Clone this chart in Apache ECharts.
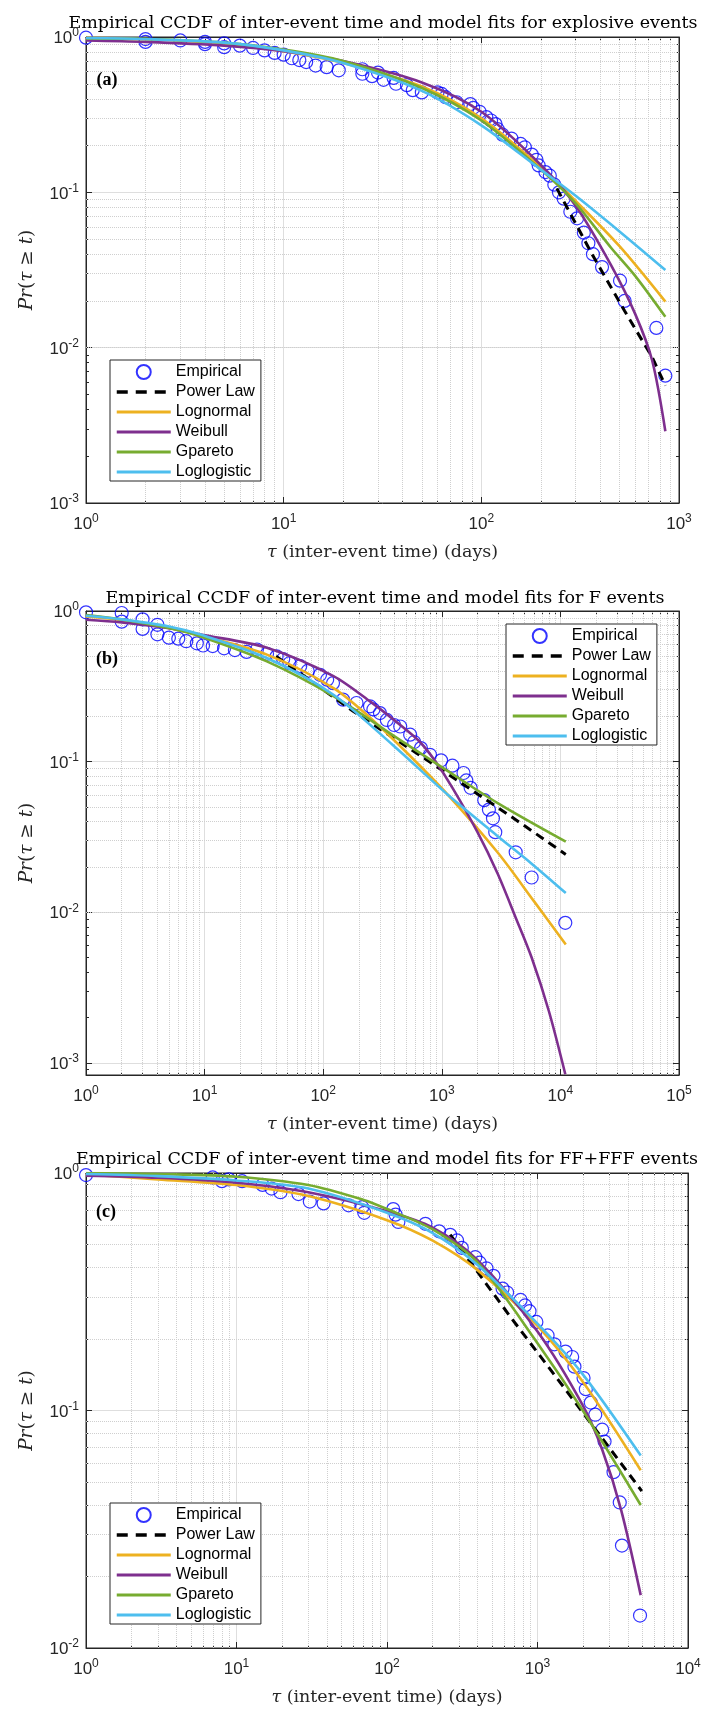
<!DOCTYPE html>
<html>
<head>
<meta charset="utf-8">
<script src="https://cdn.jsdelivr.net/npm/echarts@6/dist/echarts.min.js"></script>
<style>
html, body { margin: 0; padding: 0; background: #fff; }
#chart { width: 710px; height: 1711px; }
</style>
</head>
<body>
<div id="chart"></div>
<script>
var seriesNames = ['Empirical', 'Power Law', 'Lognormal', 'Weibull', 'Gpareto', 'Loglogistic'];
var titles = [
	'Empirical CCDF of inter-event time and model fits for explosive events',
	'Empirical CCDF of inter-event time and model fits for F events',
	'Empirical CCDF of inter-event time and model fits for FF+FFF events'
];
var panelTags = ['(a)', '(b)', '(c)'];

// (a) explosive events  [t, Pr]
var empA = [[1,0.99],[2,0.97],[2,0.93],[3,0.95],[4,0.93],[4,0.9],[5,0.91],[5,0.86],[6,0.88],[7,0.85],[8,0.82],[9,0.79],[10,0.77],[11,0.73],[12,0.71],[13,0.69],[14.5,0.655],[16.5,0.64],[19,0.61],[25,0.62],[25,0.58],[28,0.56],[30,0.59],[32,0.53],[36,0.545],[37,0.5],[42,0.49],[45,0.455],[50,0.44],[60,0.44],[63,0.43],[66,0.41],[75,0.38],[88,0.37],[91,0.35],[98,0.33],[106,0.305],[112,0.29],[118,0.275],[121,0.255],[128,0.235],[142,0.222],[158,0.205],[166,0.195],[180,0.175],[190,0.162],[195,0.149],[211,0.135],[222,0.128],[234,0.112],[247,0.1],[261,0.091],[282,0.075],[305,0.068],[330,0.055],[348,0.047],[367,0.04],[408,0.033],[503,0.027],[531,0.02],[768,0.0134],[853,0.0066]];
var powA = [[241,0.106],[367,0.039],[531,0.0172],[731,0.0087],[853,0.0057]];
var lognA = [[1,0.99],[2,0.97],[5,0.91],[10,0.81],[20,0.68],[50,0.48],[100,0.30],[200,0.145],[300,0.088],[500,0.045],[853,0.0198]];
var weibA = [[1,0.95],[2,0.93],[5,0.88],[10,0.81],[20,0.70],[50,0.51],[100,0.33],[200,0.15],[300,0.082],[453,0.034],[600,0.0165],[731,0.0083],[853,0.0029]];
var gparA = [[1,0.98],[2,0.97],[5,0.92],[10,0.83],[20,0.70],[50,0.47],[100,0.29],[200,0.14],[300,0.085],[453,0.044],[600,0.029],[853,0.0158]];
var loglA = [[1,0.985],[2,0.97],[5,0.92],[10,0.82],[20,0.68],[50,0.45],[100,0.27],[200,0.14],[300,0.095],[500,0.056],[853,0.0316]];

// (b) F events
var empB = [[1,0.98],[2,0.97],[2,0.85],[3,0.88],[3,0.76],[4,0.81],[4,0.7],[5,0.665],[6,0.655],[7,0.63],[8.6,0.61],[9.7,0.59],[11.7,0.585],[14.6,0.565],[18,0.55],[22.6,0.535],[27.6,0.555],[33.6,0.52],[40.5,0.5],[46,0.48],[52,0.45],[64,0.43],[74,0.4],[94,0.377],[108,0.35],[121,0.332],[147,0.258],[191,0.245],[248,0.233],[265,0.222],[301,0.21],[344,0.189],[396,0.175],[446,0.171],[541,0.151],[585,0.135],[667,0.123],[795,0.111],[986,0.102],[1229,0.094],[1524,0.084],[1610,0.075],[1750,0.067],[2279,0.0555],[2496,0.048],[2700,0.042],[2823,0.034],[4197,0.025],[5720,0.017],[11000,0.0085]];
var powB = [[40,0.5],[72.6,0.36],[179,0.216],[1000,0.088],[3870,0.043],[11100,0.0242]];
var lognB = [[1,0.92],[2,0.87],[5,0.77],[9.1,0.69],[33.5,0.513],[122,0.308],[250,0.195],[505,0.115],[1130,0.06],[2960,0.0249],[6000,0.0118],[11100,0.0061]];
var weibB = [[1,0.875],[2,0.84],[5,0.77],[9.1,0.7],[33.5,0.57],[122,0.37],[250,0.25],[446,0.175],[654,0.135],[870,0.102],[1230,0.067],[2000,0.034],[2960,0.018],[4200,0.0092],[5720,0.005],[8000,0.0022],[11000,0.00084]];
var gparB = [[1,0.94],[2,0.88],[5,0.77],[9.1,0.68],[33.5,0.463],[122,0.272],[446,0.139],[1000,0.092],[2960,0.053],[11100,0.0294]];
var loglB = [[1,0.93],[2,0.88],[5,0.79],[9.1,0.7],[33.5,0.487],[122,0.278],[390,0.128],[1130,0.06],[2960,0.032],[5720,0.021],[11100,0.0134]];

// (c) FF+FFF events
var empC = [[1,0.98],[6.95,0.958],[8,0.924],[8.9,0.94],[10.9,0.924],[14.9,0.891],[17.1,0.86],[19.6,0.83],[25.8,0.815],[30.7,0.758],[37.9,0.745],[55.6,0.731],[68.4,0.718],[70.6,0.68],[110,0.705],[114,0.668],[119,0.622],[180,0.611],[222,0.568],[263,0.549],[292,0.52],[314,0.484],[386,0.442],[413,0.419],[458,0.397],[510,0.369],[586,0.326],[628,0.314],[772,0.292],[827,0.277],[885,0.262],[983,0.236],[1167,0.207],[1295,0.19],[1535,0.177],[1700,0.168],[1760,0.153],[2023,0.137],[2095,0.123],[2260,0.108],[2420,0.096],[2690,0.083],[2790,0.074],[3200,0.055],[3520,0.041],[3640,0.027],[4800,0.0137]];
var powC = [[263,0.55],[670,0.245],[1500,0.125],[4930,0.0458]];
var lognC = [[1,0.986],[3,0.94],[10,0.89],[30,0.8],[100,0.633],[200,0.52],[400,0.39],[1000,0.227],[2000,0.132],[4850,0.056]];
var weibC = [[1,0.975],[3,0.955],[10,0.91],[30,0.83],[100,0.69],[200,0.59],[400,0.43],[1000,0.215],[2000,0.105],[2700,0.068],[3600,0.038],[4850,0.0167]];
var gparC = [[1,1.0],[3,0.99],[10,0.965],[30,0.89],[70,0.77],[100,0.705],[200,0.58],[400,0.42],[1000,0.192],[2000,0.1],[4850,0.04]];
var loglC = [[1,0.99],[3,0.97],[10,0.93],[30,0.86],[100,0.68],[200,0.56],[400,0.41],[1000,0.232],[2000,0.142],[4850,0.0646]];

var panels = [
	{ box: [86, 37, 593, 466], x: [1, 1000], y: [0.001, 1], emp: empA, fits: [powA, lognA, weibA, gparA, loglA],
		legend: [110, 360], title: [383, 23], tag: [107, 80] },
	{ box: [86, 611, 593, 464], x: [1, 100000], y: [0.00083, 1], emp: empB, fits: [powB, lognB, weibB, gparB, loglB],
		legend: [506, 624], title: [385, 598], tag: [107, 659] },
	{ box: [86, 1173, 602, 475], x: [1, 10000], y: [0.01, 1], emp: empC, fits: [powC, lognC, weibC, gparC, loglC],
		legend: [110, 1503], title: [387, 1159], tag: [106, 1212] }
];

var fitStyles = [
	{ color: '#000000', width: 3, type: [9, 6] },
	{ color: '#EDB120', width: 2.6, type: 'solid' },
	{ color: '#7E2F8E', width: 2.6, type: 'solid' },
	{ color: '#77AC30', width: 2.6, type: 'solid' },
	{ color: '#4DBEEE', width: 2.6, type: 'solid' }
];

var axisColor = '#262626';
var serifFont = 'DejaVu Serif';

//10^n 标签
function powLabel(v) {
	var e = Math.log10(v);
	if (Math.abs(e - Math.round(e)) > 1e-6) return '';
	return '{b|10}{s|' + Math.round(e) + '}';
}
var labelRich = {
	b: { fontFamily: 'Liberation Sans', fontSize: 17, color: '#262626', lineHeight: 20, verticalAlign: 'bottom' },
	s: { fontFamily: 'Liberation Sans', fontSize: 12, color: '#262626', lineHeight: 20, verticalAlign: 'top' }
};

//次网格线位置 2..9 x 10^e
function minorVals(lo, hi) {
	var out = [];
	for (var e = Math.floor(Math.log10(lo)); e < Math.round(Math.log10(hi)); e++) {
		for (var k = 2; k <= 9; k++) {
			var v = k * Math.pow(10, e);
			if (v > lo && v < hi) out.push(+v.toPrecision(6));
		}
	}
	return out;
}

var grid = [], xAxis = [], yAxis = [], series = [], legend = [], graphic = [];

panels.forEach(function(p, i) {
	grid.push({
		left: p.box[0], top: p.box[1], width: p.box[2], height: p.box[3],
		show: true, borderColor: axisColor, borderWidth: 1, backgroundColor: '#fff'
	});
	var xBase = {
		type: 'log', logBase: 10, gridIndex: i, min: p.x[0], max: p.x[1],
		axisLine: { show: true, lineStyle: { color: axisColor, width: 1 } },
		axisTick: { show: true, inside: true, length: 6, lineStyle: { color: axisColor } },
		minorTick: { show: true, splitNumber: 9, length: 3, lineStyle: { color: axisColor } },
		splitLine: { show: false },
		axisLabel: { show: false }
	};
	var yBase = {
		type: 'log', logBase: 10, gridIndex: i, min: p.y[0], max: p.y[1],
		axisLine: { show: true, lineStyle: { color: axisColor, width: 1 } },
		axisTick: { show: true, inside: true, length: 6, lineStyle: { color: axisColor } },
		minorTick: { show: true, splitNumber: 9, length: 3, lineStyle: { color: axisColor } },
		splitLine: { show: false },
		axisLabel: { show: false }
	};
	xAxis.push(Object.assign({}, xBase, {
		position: 'bottom',
		splitLine: { show: true, lineStyle: { color: '#dedede', width: 1 } },
		axisLabel: { show: true, margin: 10, formatter: powLabel, rich: labelRich },
		name: '{i|τ} (inter-event time) (days)', nameLocation: 'middle', nameGap: 40,
		nameTextStyle: {
			fontFamily: serifFont, fontSize: 17.5, color: '#262626', verticalAlign: 'top',
			rich: { i: { fontFamily: serifFont, fontSize: 17.5, fontStyle: 'italic', color: '#262626' } }
		}
	}));
	xAxis.push(Object.assign({}, xBase, { position: 'top' }));
	yAxis.push(Object.assign({}, yBase, {
		position: 'left',
		splitLine: { show: true, lineStyle: { color: '#dedede', width: 1 } },
		axisLabel: { show: true, margin: 7, formatter: powLabel, rich: labelRich, showMinLabel: i !== 1 },
		name: '{i|Pr}({i|τ} ≥ {i|t})', nameLocation: 'middle', nameGap: 49, nameRotate: 90,
		nameTextStyle: {
			fontFamily: serifFont, fontSize: 18.5, color: '#262626',
			rich: { i: { fontFamily: serifFont, fontSize: 18.5, fontStyle: 'italic', color: '#262626' } }
		}
	}));
	yAxis.push(Object.assign({}, yBase, { position: 'right' }));

	var xi = 2 * i, yi = 2 * i;
	var minorLines = [];
	minorVals(p.x[0], p.x[1]).forEach(function(v) { minorLines.push({ xAxis: v }); });
	minorVals(p.y[0], p.y[1]).forEach(function(v) { minorLines.push({ yAxis: v }); });

	series.push({
		name: seriesNames[0], type: 'scatter', xAxisIndex: xi, yAxisIndex: yi,
		symbol: 'circle', symbolSize: 13,
		itemStyle: { color: 'rgba(0,0,0,0)', borderColor: '#0000FF', borderWidth: 1.2 },
		data: p.emp,
		markLine: {
			silent: true, z: 1, symbol: ['none', 'none'], label: { show: false },
			lineStyle: { type: 'dotted', color: '#cfcfcf', width: 1 },
			emphasis: { disabled: true },
			data: minorLines
		}
	});
	p.fits.forEach(function(d, k) {
		var st = fitStyles[k];
		series.push({
			name: seriesNames[k + 1], type: 'line', xAxisIndex: xi, yAxisIndex: yi,
			symbol: 'none', smooth: k === 0 ? false : 0.3,
			lineStyle: { color: st.color, width: st.width, type: st.type },
			itemStyle: { color: st.color },
			data: d
		});
	});

	//图例：线型项不显示圆点，线宽加粗
	var legendData = seriesNames.map(function(n, k) {
		if (k === 0) return { name: n };
		var st = fitStyles[k - 1];
		return {
			name: n, itemStyle: { opacity: 0 },
			lineStyle: { color: st.color, width: k === 1 ? 3.5 : 3, type: k === 1 ? [11, 8] : 'solid' }
		};
	});
	legend.push({
		data: legendData, orient: 'vertical', left: p.legend[0], top: p.legend[1],
		padding: [4, 6, 1, 5], itemGap: 4, itemWidth: 54, itemHeight: 14,
		borderColor: axisColor, borderWidth: 1, backgroundColor: '#fff',
		selectedMode: false,
		textStyle: { fontFamily: 'Liberation Sans', fontSize: 16, color: '#000' }
	});

	graphic.push({
		type: 'text', x: p.title[0], y: p.title[1], silent: true,
		style: { text: titles[i], fontFamily: serifFont, fontSize: 17.5, fill: '#000',
			align: 'center', verticalAlign: 'middle', textAlign: 'center', textVerticalAlign: 'middle' }
	});
	graphic.push({
		type: 'text', x: p.tag[0], y: p.tag[1], silent: true, z: 10,
		style: { text: panelTags[i], fontFamily: 'Liberation Serif', fontSize: 18, fontWeight: 'bold', fill: '#000',
			align: 'center', verticalAlign: 'middle', textAlign: 'center', textVerticalAlign: 'middle' }
	});
});

var myChart = echarts.init(document.getElementById('chart'), null, { renderer: 'canvas' });
myChart.setOption({
	animation: false,
	backgroundColor: '#fff',
	grid: grid,
	xAxis: xAxis,
	yAxis: yAxis,
	legend: legend,
	graphic: graphic,
	series: series
});
window.onresize = myChart.resize;
</script>
</body>
</html>
